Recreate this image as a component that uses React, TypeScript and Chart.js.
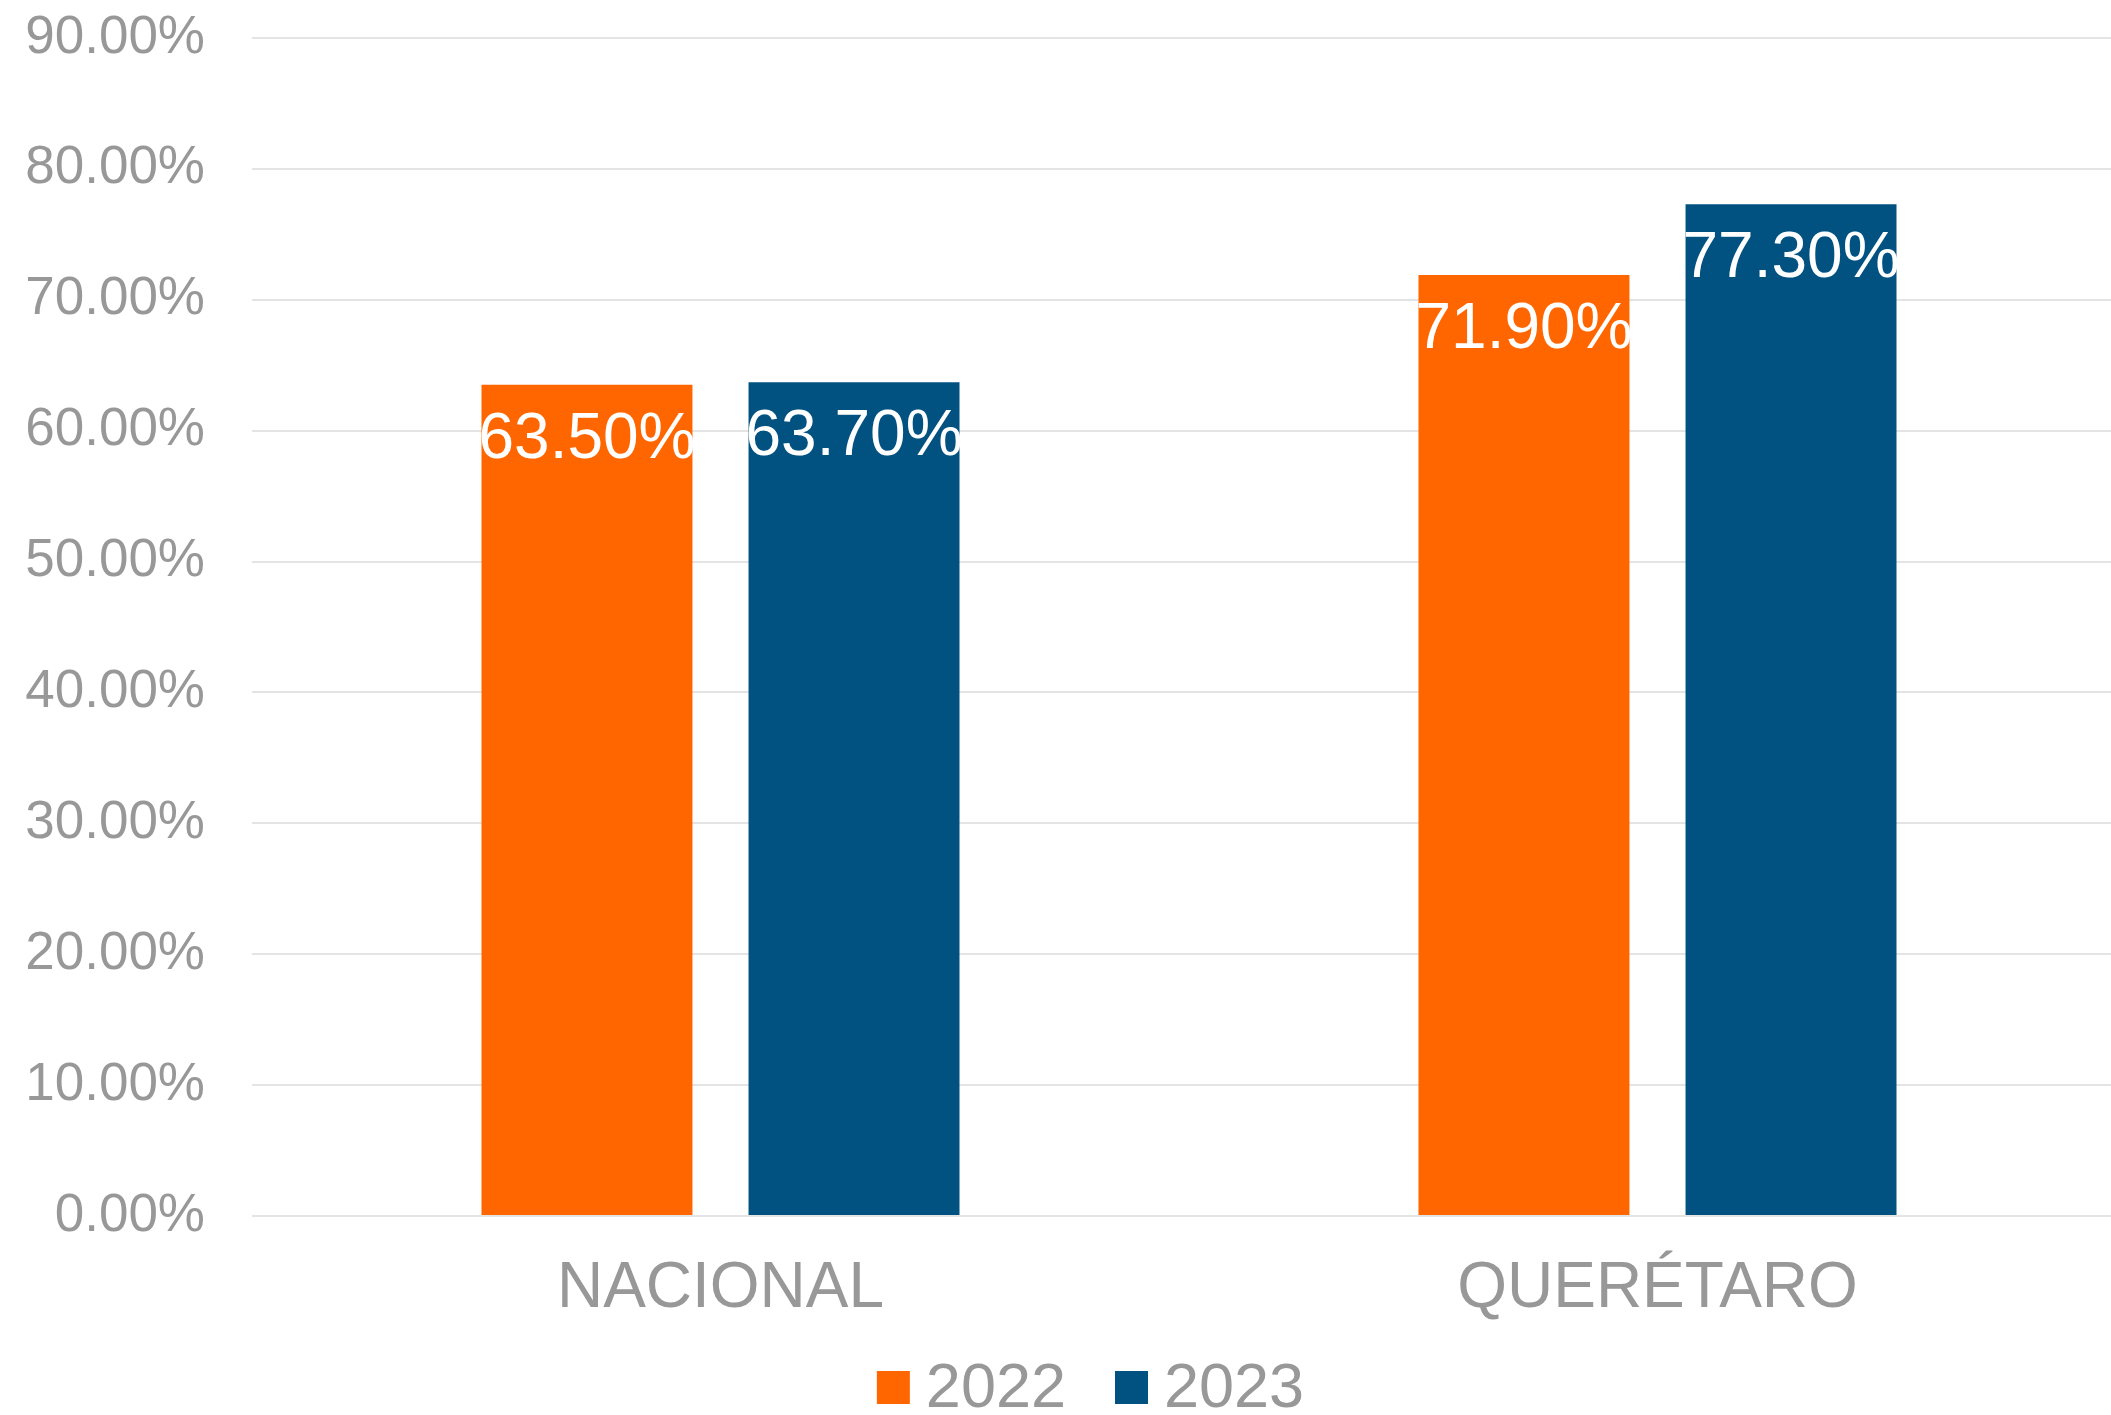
import React, { useEffect, useRef } from "react";
import { Chart, registerables } from "chart.js";

Chart.register(...registerables);

const categories = ["NACIONAL", "QUERÉTARO"];
const seriesNames = ["2022", "2023"];
const values2022 = [63.5, 71.9];
const values2023 = [63.7, 77.3];
const seriesColors = ["#FF6600", "#015281"];
const yTicksMax = 90;
const yTicksStep = 10;

const FONT = "'Liberation Sans', Arial, sans-serif";
const GRAY = "#989898";

const barLabelPlugin = {
  id: "barLabels",
  afterDatasetsDraw(chart: any) {
    const ctx = chart.ctx;
    ctx.save();
    ctx.font = `64px ${FONT}`;
    ctx.fillStyle = "#ffffff";
    ctx.textAlign = "center";
    ctx.textBaseline = "alphabetic";
    chart.data.datasets.forEach((ds: any, i: number) => {
      const meta = chart.getDatasetMeta(i);
      meta.data.forEach((bar: any, j: number) => {
        const v = ds.data[j] as number;
        ctx.fillText(v.toFixed(2) + "%", bar.x, bar.y + 73);
      });
    });
    ctx.restore();
  },
};

const customLegendPlugin = {
  id: "customLegend",
  afterDraw(chart: any) {
    const ctx = chart.ctx;
    ctx.save();
    ctx.font = `63px ${FONT}`;
    const box = 33;
    const gap = 16;
    const itemGap = 49;
    const items = chart.data.datasets.map((ds: any) => ({
      text: ds.label as string,
      color: ds.backgroundColor as string,
      w: ctx.measureText(ds.label).width,
    }));
    const total =
      items.reduce((s: number, it: any) => s + box + gap + it.w, 0) +
      itemGap * (items.length - 1);
    const centerX = 1090.5;
    let x = centerX - total / 2;
    const baseY = 1407;
    items.forEach((it: any) => {
      ctx.fillStyle = it.color;
      ctx.fillRect(x, baseY - 36, box, box);
      ctx.fillStyle = GRAY;
      ctx.textAlign = "left";
      ctx.textBaseline = "alphabetic";
      ctx.fillText(it.text, x + box + gap, baseY);
      x += box + gap + it.w + itemGap;
    });
    ctx.restore();
  },
};

export default function App() {
  const canvasRef = useRef<HTMLCanvasElement | null>(null);

  useEffect(() => {
    document.body.style.margin = "0";
    document.body.style.overflow = "hidden";
    const canvas = canvasRef.current;
    if (!canvas) return;
    const chart = new Chart(canvas, {
      type: "bar",
      data: {
        labels: categories,
        datasets: [
          {
            label: seriesNames[0],
            data: values2022,
            backgroundColor: seriesColors[0],
            categoryPercentage: 0.57,
            barPercentage: 0.79,
          },
          {
            label: seriesNames[1],
            data: values2023,
            backgroundColor: seriesColors[1],
            categoryPercentage: 0.57,
            barPercentage: 0.79,
          },
        ],
      },
      options: {
        responsive: false,
        maintainAspectRatio: false,
        animation: false,
        layout: { padding: { top: 0, bottom: 86, left: 0, right: 0 } },
        plugins: {
          legend: { display: false },
          title: { display: false },
          tooltip: { enabled: false },
        },
        scales: {
          x: {
            grid: { display: false, drawTicks: false },
            border: { display: false },
            ticks: {
              color: GRAY,
              font: { family: FONT, size: 64 },
              padding: 35,
            },
            afterFit: (s: any) => {
              s.height = 113;
            },
          },
          y: {
            min: 0,
            max: yTicksMax,
            grid: { color: "#e4e4e4", lineWidth: 2, drawTicks: false },
            border: { display: false },
            ticks: {
              stepSize: yTicksStep,
              color: GRAY,
              font: { family: FONT, size: 53 },
              padding: 47,
              callback: (v: any) => Number(v).toFixed(2) + "%",
            },
            afterFit: (s: any) => {
              s.width = 252;
              s.paddingTop = 38;
              s.paddingBottom = 0;
            },
          },
        },
      },
      plugins: [barLabelPlugin, customLegendPlugin],
    });
    return () => chart.destroy();
  }, []);

  return (
    <div style={{ width: 2111, height: 1415, background: "#fff", overflow: "hidden" }}>
      <canvas ref={canvasRef} width={2126} height={1415} style={{ display: "block" }} />
    </div>
  );
}
